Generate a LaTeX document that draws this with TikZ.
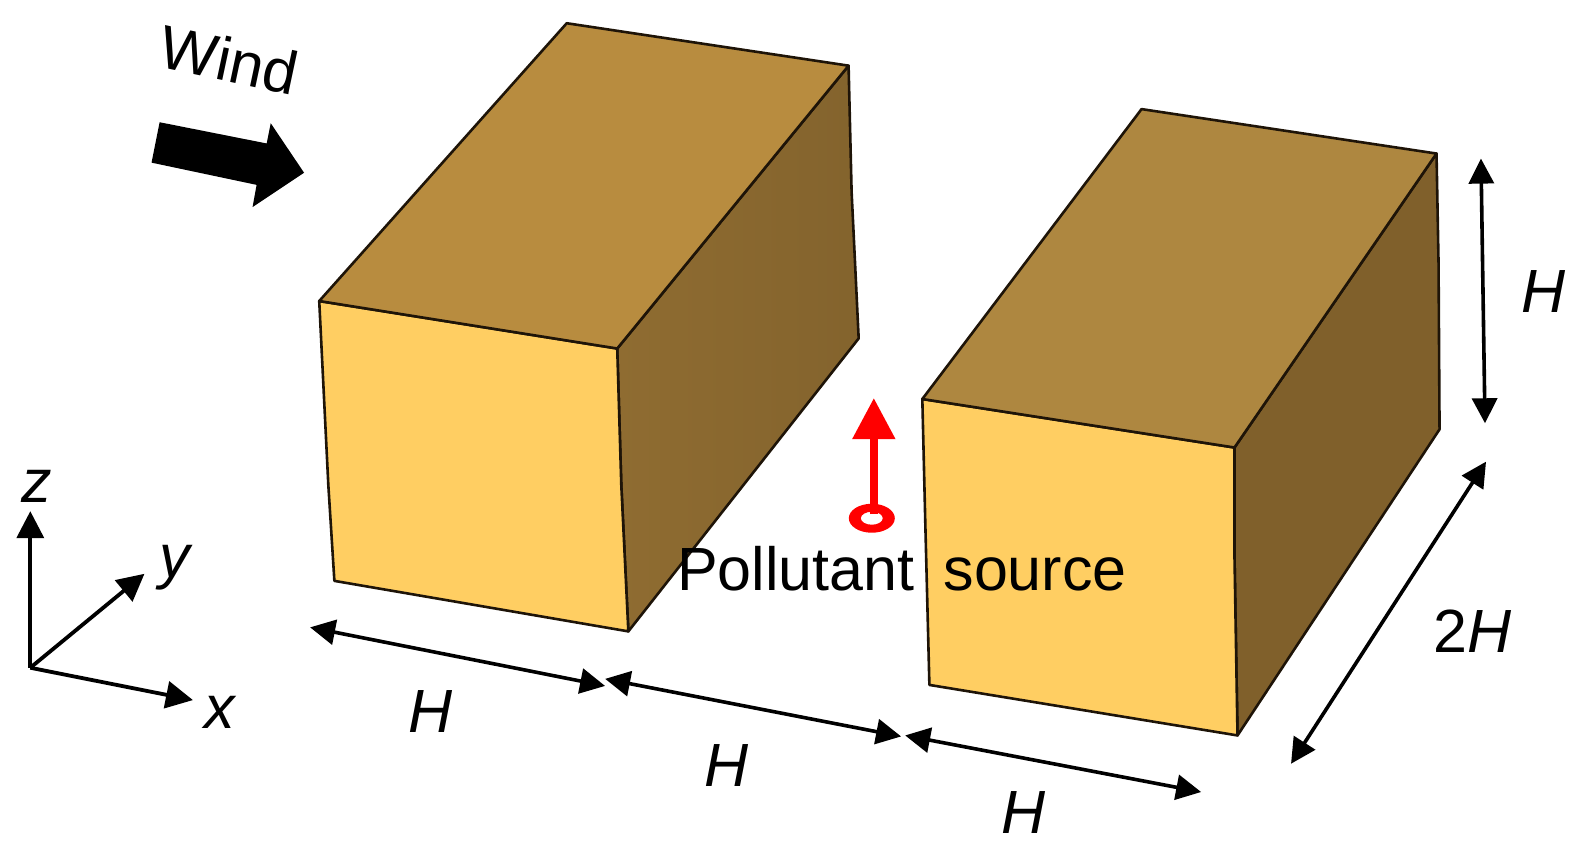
\documentclass[tikz,border=0pt]{standalone}
\usepackage{fontspec}
\setmainfont{Liberation Sans}
\usetikzlibrary{arrows.meta}
\definecolor{frontc}{HTML}{FFCE62}
\definecolor{topa}{HTML}{B88C3F}
\definecolor{topb}{HTML}{AE8740}
\definecolor{sidea}{HTML}{8F6C31}
\definecolor{sideb}{HTML}{80602B}
\definecolor{edgec}{HTML}{1E1408}
\definecolor{srcred}{HTML}{FF0000}
\tikzset{
  face/.style={draw=edgec,line width=2.6pt,line join=round},
  dimline/.style={draw=black,line width=3.6pt,{Triangle[length=25pt,width=25pt]}-{Triangle[length=25pt,width=25pt]}},
  axisline/.style={draw=black,line width=3.8pt,-{Triangle[length=27pt,width=27pt]}},
  lab/.style={inner sep=0pt,font=\fontsize{61}{61}\selectfont},
  ilab/.style={lab,font=\fontsize{61}{61}\selectfont\itshape},
}
\begin{document}
\begin{tikzpicture}[x=1.0102pt,y=-1.0102pt]
\useasboundingbox (0,0) rectangle (1568,857);
% building 1
\coordinate (a1) at (561,23); \coordinate (a2) at (840,65);
\coordinate (a3) at (611,345); \coordinate (a4) at (316,298);
\coordinate (a5) at (331,575); \coordinate (a6) at (622,625);
\coordinate (a7) at (850,335);
\path[face,left color=sidea,right color=sidea!92!black] (a2) -- (843,190) -- (a7) -- (a6) -- (615,480) -- (a3) -- cycle;
\path[face,fill=frontc] (a4) -- (a3) -- (615,480) -- (a6) -- (a5) -- (325,480) -- cycle;
\path[face,fill=topa] (a1) -- (a2) -- (a3) -- (a4) -- cycle;
% building 2
\coordinate (b1) at (1130,108); \coordinate (b2) at (1422,152);
\coordinate (b3) at (1222,443); \coordinate (b4) at (913,395);
\coordinate (b5) at (920,678); \coordinate (b6) at (1225,728);
\coordinate (b7) at (1425,425);
\path[face,fill=sideb] (b2) -- (1424,260) -- (b7) -- (b6) -- (1222,550) -- (b3) -- cycle;
\path[face,fill=frontc] (b4) -- (b3) -- (1222,550) -- (b6) -- (b5) -- (916,520) -- cycle;
\path[face,fill=topb] (b1) -- (b2) -- (b3) -- (b4) -- cycle;
% wind
\node[lab,rotate=-12] (wind) at (227,59) {Wind};
\fill[black] (158,121) -- (264,142) -- (268,122) -- (301,171) -- (250,205) -- (254,183) -- (150,161) -- cycle;
% axes
\coordinate (o) at (30,661);
\coordinate (zt) at (30,506);
\coordinate (yt) at (143,568);
\coordinate (xt) at (191,693);
\draw[axisline] (o) -- (zt);
\draw[axisline] (o) -- (yt);
\draw[axisline] (o) -- (xt);
\node[ilab] (zl) at (36,481) {z};
\node[ilab] (yl) at (173,562) {y};
\node[ilab] (xl) at (218,705) {x};
% source
\coordinate (s0) at (863,513);
\coordinate (s1) at (865,394);
\coordinate (s2) at (865,509);
\fill[srcred,even odd rule] (s0) ellipse (23pt and 14.5pt) (s0) ellipse (11pt and 6.5pt);
\draw[srcred,line width=8pt,-{Triangle[length=41pt,width=41pt]}] (s2) -- (s1);
\node[lab,anchor=base west] (src) at (670,585) {Pollutant\hspace{0.2em} source};
% dimensions
\coordinate (d1a) at (307,621); \coordinate (d1b) at (599,679);
\coordinate (d2a) at (599,672); \coordinate (d2b) at (892,729);
\coordinate (d3a) at (896,728); \coordinate (d3b) at (1189,784);
\coordinate (d4a) at (1466,157); \coordinate (d4b) at (1470,419);
\coordinate (d5a) at (1471,457); \coordinate (d5b) at (1278,756);
\draw[dimline] (d1a) -- (d1b);
\draw[dimline] (d2a) -- (d2b);
\draw[dimline] (d3a) -- (d3b);
\draw[dimline] (d4a) -- (d4b);
\draw[dimline] (d5a) -- (d5b);
\node[ilab] (h1) at (426,704) {H};
\node[ilab] (h2) at (719,758) {H};
\node[ilab] (h3) at (1013,804) {H};
\node[ilab] (h4) at (1528,289) {H};
\node[lab] (h5) at (1458,625) {2\textit{H}};
\end{tikzpicture}
\end{document}
